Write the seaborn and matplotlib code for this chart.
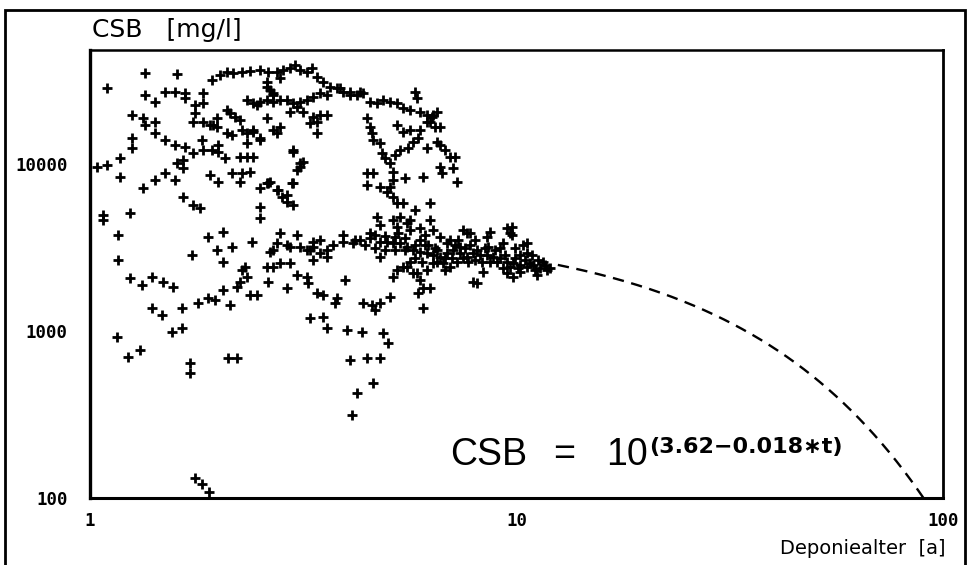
import numpy as np
import pandas as pd
import matplotlib
matplotlib.use("Agg")
import matplotlib.pyplot as plt
from matplotlib.ticker import FixedLocator, LogLocator, FuncFormatter, NullFormatter
from matplotlib.patches import Rectangle
import seaborn as sns

# --- measured COD (CSB) concentrations vs. landfill age -------------------
upper_arc_age = [1.933, 2.018, 2.095, 2.165, 2.272, 2.373, 2.504, 2.615, 2.745, 2.835,
                 2.945, 3.025, 3.108, 3.227, 3.315, 3.406, 3.518, 3.654, 3.795, 3.920,
                 4.071, 4.227, 4.367, 4.535, 4.709, 4.865, 5.052, 5.246, 5.420, 5.628,
                 5.782, 5.845, 5.941, 6.169, 6.372, 6.512, 6.270, 6.442, 6.618]
upper_arc_csb = [31850, 34120, 35550, 35080, 35550, 36050, 36550, 35550, 35550, 36550,
                 37570, 39150, 36550, 35550, 37570, 33190, 30980, 28910, 28530, 26990,
                 26990, 25900, 26630, 23510, 23190, 24170, 23510, 23190, 21650, 21060,
                 26990, 24850, 20490, 19660, 19660, 20490, 17840, 16650, 16650]

upper_band_age = [2.335, 2.412, 2.504, 2.601, 2.686, 2.790, 2.897, 2.993, 3.108, 3.227,
                  3.333, 3.462, 3.595, 2.945, 3.058, 3.159, 3.333, 3.462, 3.406, 3.406,
                  2.790, 2.686, 2.601, 2.601, 2.643, 2.686, 2.790, 3.857, 4.071, 4.297,
                  3.280, 3.595, 2.745, 2.504, 2.412, 2.335, 2.993, 3.108, 3.058, 2.615,
                  2.760, 2.897, 2.977, 6.338, 6.169]
upper_band_csb = [24170, 23190, 23510, 24170, 23510, 24170, 24170, 23190, 23510, 24170,
                  25190, 26630, 25900, 20490, 21950, 20490, 19120, 19660, 17840, 15340,
                  16650, 15980, 18850, 30980, 27750, 26630, 32740, 28530, 25900, 26990,
                  17600, 19660, 15340, 14310, 15540, 13350, 11800, 10140, 9206, 7695,
                  6986, 6520, 7695, 19120, 17840]

young_age = [1.346, 1.599, 1.096, 1.346, 1.420, 1.499, 1.582, 1.670, 1.670, 1.763,
             1.763, 1.840, 1.840, 1.744, 1.840, 1.943, 1.985, 2.095, 2.130, 2.188,
             2.248, 2.272, 2.153, 2.095, 1.985, 2.335, 2.412, 2.504, 1.254, 1.331,
             1.346, 1.420, 1.420, 1.254, 1.254, 1.176, 1.176, 1.096, 1.038, 1.331,
             1.499, 1.582, 1.670, 1.744, 1.831, 1.840, 1.933, 1.996, 1.996, 2.073,
             2.248, 2.335, 2.412, 1.653, 1.653, 1.599, 1.582, 1.499, 1.420, 1.912,
             1.996, 2.153, 2.272, 2.373, 2.248, 2.504, 2.601, 2.643, 2.745, 2.820,
             2.897, 2.993, 2.993, 2.993, 3.108, 3.159, 1.653, 1.744, 1.811, 1.912,
             2.464, 2.601, 2.686]
young_csb = [35080, 34590, 28530, 25900, 23510, 26990, 26990, 26630, 24850, 22560,
             20210, 26630, 23190, 17840, 17840, 17120, 18850, 21060, 20210, 19120,
             18340, 15980, 14920, 15340, 16650, 15340, 15980, 13920, 19660, 18850,
             17120, 17840, 15340, 14310, 12470, 10870, 8358, 9863, 9594, 7182,
             13920, 12990, 12640, 11640, 13920, 12130, 12130, 12990, 11800, 10870,
             11010, 11010, 11010, 10570, 9464, 10140, 8020, 8833, 8020, 8592,
             7801, 8833, 8833, 8955, 7801, 7182, 7695, 7801, 6986, 6342,
             5920, 5680, 12130, 7695, 9594, 10280, 6342, 5680, 5450, 17120,
             22560, 28910, 25900]

decline_age = [4.462, 4.535, 4.584, 4.609, 4.787, 4.839, 4.918, 5.052, 5.190, 5.333,
               5.568, 5.720, 5.876, 5.246, 5.420, 5.628, 5.941, 6.169, 6.512, 6.618,
               6.799, 6.985, 7.176, 6.618, 6.689, 7.099, 7.253, 4.462, 4.609, 4.462,
               4.787, 4.971, 5.134, 5.246, 5.420, 5.134, 5.052, 5.479, 6.038, 6.270,
               5.782, 5.134]
decline_csb = [18850, 16650, 15340, 13920, 13350, 11640, 10870, 10140, 11320, 12130,
               12470, 13540, 14310, 17120, 15540, 15980, 15980, 12470, 13540, 12990,
               12130, 11010, 11010, 9594, 8833, 9464, 7801, 8833, 8833, 7485,
               7281, 6796, 6342, 5839, 5839, 8020, 7281, 8245, 8358, 5839,
               5302, 8955]

low_age = [1.072, 1.072, 1.241, 1.163, 1.163, 1.241, 1.324, 1.398, 1.483, 1.565,
           1.398, 1.475, 1.644, 1.557, 1.644, 1.792, 1.891, 1.964, 2.051, 2.130,
           2.212, 2.248, 2.272, 2.310, 2.335, 2.373, 2.464, 1.156, 1.228, 1.310,
           1.716, 1.716, 2.107, 2.212, 1.763, 1.831, 1.901]
low_csb = [4948, 4618, 5087, 3755, 2662, 2077, 1885, 2105, 1965, 1834,
           1373, 1247, 1373, 986, 1042, 1471, 1576, 1533, 1760, 1431,
           1834, 1965, 2319, 2416, 2105, 1643, 1643, 920, 698, 770,
           644, 560, 689, 689, 132, 122, 109]

mid_age = [1.735, 1.891, 2.051, 1.985, 2.051, 2.153, 2.399, 2.504, 2.504, 2.643,
           2.601, 2.686, 2.790, 2.790, 2.945, 3.058, 3.058, 3.227, 3.245, 3.406,
           3.518, 3.795, 3.754, 3.518, 3.280, 3.595, 4.005, 4.343, 3.962, 4.071,
           4.227, 4.115, 4.462, 4.609, 4.787, 4.865, 4.998, 4.367, 4.584, 4.659,
           4.787, 5.052, 2.615, 2.897, 2.897, 3.333, 3.462, 3.595, 3.280, 2.745,
           2.686, 2.945, 3.333, 5.876, 8.080, 6.038, 6.038, 6.270, 7.908, 5.134,
           5.941]
mid_csb = [2851, 3653, 3913, 3055, 2590, 3184, 3410, 5525, 4747, 2972,
           2416, 2416, 2553, 3860, 2553, 3755, 2164, 2105, 1938, 1689,
           1643, 1576, 1471, 1213, 1197, 1042, 1014, 986, 2020, 670,
           426, 314, 689, 488, 689, 972, 848, 1471, 1431, 1336,
           1471, 1598, 1965, 1809, 3273, 2662, 3505, 2773, 3055, 3365,
           3055, 3184, 3410, 1689, 1938, 1809, 1373, 1809, 1965, 2105,
           2020]

band_age = [3.108, 3.227, 3.333, 3.462, 3.595, 3.714, 3.920, 4.137, 4.297, 4.535,
            4.787, 4.971, 5.134, 5.333, 5.538, 5.720, 5.941, 6.169, 6.372, 6.618,
            6.873, 7.099, 7.373, 7.656, 7.908, 8.213, 8.529, 8.810, 9.149, 9.502,
            9.814, 10.19, 10.58, 10.94, 11.36, 11.80, 5.134, 5.246, 5.333, 5.538,
            5.628, 4.709, 4.787, 6.270, 6.372, 6.618, 6.873, 7.373, 7.493, 7.781,
            8.529, 8.669, 9.502, 9.657, 9.298, 10.36, 10.58, 5.246, 5.420, 5.720,
            8.347, 9.502, 9.814, 9.657, 10.19, 10.76, 6.726, 6.985, 7.253, 7.493,
            8.080, 4.787, 5.628, 6.169, 6.372, 5.628, 7.656, 9.761, 9.761, 10.58,
            3.920, 4.182, 4.535, 5.538, 5.845, 5.190, 5.479, 5.782, 6.103, 6.442,
            6.799, 7.176, 7.574, 7.994, 8.438, 8.906, 9.400, 9.921, 10.47, 11.05,
            11.67, 4.414, 4.659, 4.918, 5.190, 5.941, 6.512, 6.985, 7.781, 8.669,
            9.149, 10.19, 11.23, 4.659, 4.918, 5.275, 5.479, 5.782, 6.005, 6.202,
            6.512, 6.799, 7.060, 7.293, 7.697, 7.994, 8.302, 8.575, 9.002, 9.298,
            9.921, 10.08, 10.88, 11.17, 11.54, 11.99, 5.941, 6.103]
band_csb = [3184, 3055, 3184, 2931, 3055, 3273, 3410, 3365, 3505, 3603,
            3410, 3410, 3365, 3365, 3184, 3055, 2972, 2931, 2851, 2773,
            2931, 3055, 2931, 2773, 2931, 2851, 2851, 2773, 2737, 2590,
            2553, 2484, 2416, 2484, 2384, 2319, 4618, 4193, 4813, 4431,
            4023, 4813, 4310, 4618, 4023, 3653, 3365, 3184, 4023, 3860,
            3653, 3913, 4136, 3860, 3365, 3273, 2931, 2319, 2416, 2225,
            2256, 2225, 2105, 2416, 2256, 2553, 2553, 2416, 2590, 2737,
            3055, 2773, 2590, 2319, 2553, 4618, 3860, 4193, 3755, 3365,
            3755, 3505, 3860, 2416, 2225, 3055, 3603, 3273, 3273, 3140,
            2737, 3273, 3140, 2662, 3140, 3055, 2851, 2737, 2662, 2319,
            2484, 3273, 3140, 3055, 3653, 3505, 3055, 3505, 3273, 2590,
            3140, 2851, 2662, 3755, 3704, 3860, 3055, 2737, 2590, 3273,
            2590, 2319, 2737, 3505, 2590, 3505, 2590, 3184, 2590, 2384,
            3140, 2384, 2851, 2164, 2590, 2384, 4136, 3755]

# regression line stated in the annotation: CSB = 10^(3.62 - 0.018*t)
fit_intercept = 3.62
fit_slope = 0.018
fit_start, fit_end = 12.5, 90.0

groups = {
    "upper_arc": (upper_arc_age, upper_arc_csb),
    "upper_band": (upper_band_age, upper_band_csb),
    "young": (young_age, young_csb),
    "decline": (decline_age, decline_csb),
    "low": (low_age, low_csb),
    "mid": (mid_age, mid_csb),
    "band": (band_age, band_csb),
}
df = pd.concat(
    [pd.DataFrame({"age": a, "csb": c, "group": g}) for g, (a, c) in groups.items()],
    ignore_index=True,
)

t_fit = np.linspace(fit_start, fit_end, 300)
fit_df = pd.DataFrame({"age": t_fit, "csb": 10 ** (fit_intercept - fit_slope * t_fit)})

# --- figure ---------------------------------------------------------------
sns.set_theme(style="white")
plt.rcParams["font.family"] = ["DejaVu Sans"]

W, H = 968, 565
fig = plt.figure(figsize=(W / 100, H / 100), dpi=100)
fig.patch.set_facecolor("white")
ax = fig.add_axes([90 / W, (H - 498) / H, (943 - 90) / W, (498 - 50) / H])
ax.set_facecolor("white")

sns.scatterplot(data=df, x="age", y="csb", marker="+", s=58, color="black",
                linewidth=2.0, legend=False, ax=ax, zorder=3)
sns.lineplot(data=fit_df, x="age", y="csb", color="black", linewidth=1.7,
             linestyle=(0, (4.8, 3.2)), ax=ax, zorder=2)

ax.set_xscale("log")
ax.set_yscale("log")
ax.set_xlim(1, 100)
ax.set_ylim(100, 48000)

ax.xaxis.set_major_locator(FixedLocator([1, 10, 100]))
ax.yaxis.set_major_locator(FixedLocator([100, 1000, 10000]))
ax.xaxis.set_minor_locator(LogLocator(base=10, subs=np.arange(2, 10)))
ax.yaxis.set_minor_locator(LogLocator(base=10, subs=np.arange(2, 10)))
fmt = FuncFormatter(lambda v, p: f"{v:g}")
ax.xaxis.set_major_formatter(fmt)
ax.yaxis.set_major_formatter(fmt)
ax.xaxis.set_minor_formatter(NullFormatter())
ax.yaxis.set_minor_formatter(NullFormatter())

ax.tick_params(axis="both", which="major", direction="in", length=6, width=1.6,
               color="black", top=False, right=False)
ax.tick_params(axis="both", which="minor", direction="in", length=3.5, width=1.4,
               color="black", top=False, right=False)
ax.tick_params(axis="x", which="major", pad=10)
ax.tick_params(axis="y", which="major", pad=16)
for lab in ax.get_xticklabels() + ax.get_yticklabels():
    lab.set_fontfamily("DejaVu Sans Mono")
    lab.set_fontweight("bold")
    lab.set_fontsize(12.5)
    lab.set_color("black")

ax.set_xlabel("")
ax.set_ylabel("")
for side, lw in {"left": 2.4, "bottom": 2.2, "top": 1.8, "right": 2.0}.items():
    ax.spines[side].set_visible(True)
    ax.spines[side].set_color("black")
    ax.spines[side].set_linewidth(lw)

# axis titles
fig.text(92 / W, 1 - 30 / H, "CSB   [mg/l]", ha="left", va="center",
         fontsize=18, color="black")
fig.text(945 / W, 1 - 549 / H, "Deponiealter  [a]", ha="right", va="center",
         fontsize=14, color="black")

# regression formula: "CSB", "=", "10" and the exponent as separate pieces
formula_kw = dict(va="baseline", fontsize=27, family="Liberation Sans", color="black")
fig.text(450 / W, 1 - 465 / H, "CSB", ha="left", **formula_kw)
fig.text(553 / W, 1 - 465 / H, "=", ha="left", **formula_kw)
ten = fig.text(606 / W, 1 - 465 / H, "10", ha="left", **formula_kw)
fig.canvas.draw()
bb = ten.get_window_extent(renderer=fig.canvas.get_renderer())
fig.text((bb.x1 + 1) / W, 1 - 453 / H, "(3.62\u22120.018\u2217t)", ha="left",
         va="baseline", fontsize=16, fontweight="bold", color="black")

# page frame
fig.add_artist(Rectangle((5 / W, -0.02), (965 - 5) / W, 0.02 + (H - 10) / H,
                         transform=fig.transFigure, fill=False, edgecolor="black",
                         linewidth=2.0, clip_on=False))

fig.savefig("out.png", dpi=100, facecolor="white")
